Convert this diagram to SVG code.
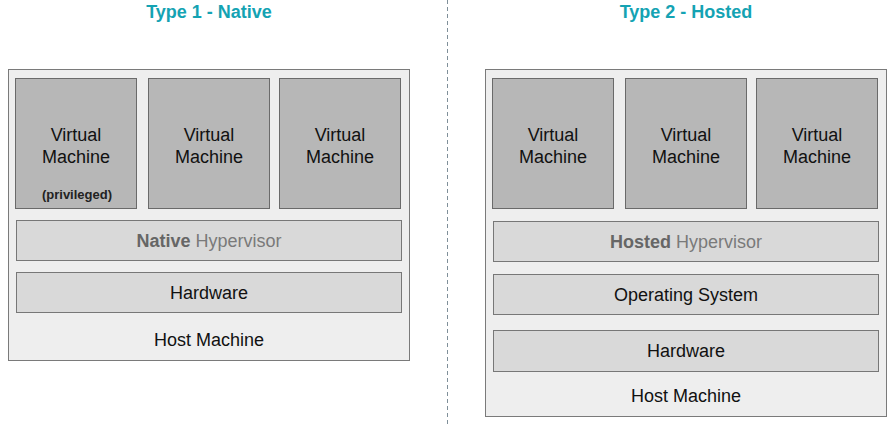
<svg xmlns="http://www.w3.org/2000/svg" width="891" height="424" viewBox="0 0 891 424">
<style>
.t{font-family:"Liberation Sans",Arial,sans-serif;text-anchor:middle}
.title{font-size:18px;font-weight:bold;fill:#14a3b3}
.host{fill:#eeeeee;stroke:#7a7a7a;stroke-width:1}
.vm{fill:#b7b7b7;stroke:#6a6a6a;stroke-width:1}
.layer{fill:#d9d9d9;stroke:#777;stroke-width:1}
.lbl{font-size:18px;fill:#111}
.hyp{font-size:18px;fill:#7a7a7a}
.hb{font-weight:bold;fill:#666}
.priv{font-size:13px;font-weight:bold;fill:#222}
</style>
<rect width="891" height="424" fill="#ffffff"/>
<g id="connectors">
<line x1="447.5" y1="0" x2="447.5" y2="424" stroke="#7f8f99" stroke-width="1" stroke-dasharray="4,3"/>
</g>
<text class="t title" x="209" y="18">Type 1 - Native</text>
<text class="t title" x="686" y="18">Type 2 - Hosted</text>
<g id="host1">
<rect class="host" x="8.5" y="69.5" width="401" height="291"/>
<text class="t lbl" x="209" y="346">Host Machine</text>
</g>
<g id="vm1a">
<rect class="vm" x="15.5" y="78.5" width="121" height="130"/>
<text class="t lbl" x="76" y="141">Virtual</text>
<text class="t lbl" x="76" y="163">Machine</text>
<text class="t priv" x="77" y="199">(privileged)</text>
</g>
<g id="vm1b">
<rect class="vm" x="148.5" y="78.5" width="121" height="130"/>
<text class="t lbl" x="209" y="141">Virtual</text>
<text class="t lbl" x="209" y="163">Machine</text>
</g>
<g id="vm1c">
<rect class="vm" x="279.5" y="78.5" width="121" height="130"/>
<text class="t lbl" x="340" y="141">Virtual</text>
<text class="t lbl" x="340" y="163">Machine</text>
</g>
<g id="hyp1">
<rect class="layer" x="16.5" y="220.5" width="385" height="40"/>
<text class="t hyp" x="209" y="247"><tspan class="hb">Native</tspan> Hypervisor</text>
</g>
<g id="hw1">
<rect class="layer" x="16.5" y="272.5" width="385" height="40"/>
<text class="t lbl" x="209" y="299">Hardware</text>
</g>
<g id="host2">
<rect class="host" x="485.5" y="69.5" width="401" height="347"/>
<text class="t lbl" x="686" y="402">Host Machine</text>
</g>
<g id="vm2a">
<rect class="vm" x="492.5" y="78.5" width="121" height="130"/>
<text class="t lbl" x="553" y="141">Virtual</text>
<text class="t lbl" x="553" y="163">Machine</text>
</g>
<g id="vm2b">
<rect class="vm" x="625.5" y="78.5" width="121" height="130"/>
<text class="t lbl" x="686" y="141">Virtual</text>
<text class="t lbl" x="686" y="163">Machine</text>
</g>
<g id="vm2c">
<rect class="vm" x="756.5" y="78.5" width="121" height="130"/>
<text class="t lbl" x="817" y="141">Virtual</text>
<text class="t lbl" x="817" y="163">Machine</text>
</g>
<g id="hyp2">
<rect class="layer" x="493.5" y="221.5" width="385" height="40"/>
<text class="t hyp" x="686" y="248"><tspan class="hb">Hosted</tspan> Hypervisor</text>
</g>
<g id="os2">
<rect class="layer" x="493.5" y="274.5" width="385" height="40"/>
<text class="t lbl" x="686" y="301">Operating System</text>
</g>
<g id="hw2">
<rect class="layer" x="493.5" y="330.5" width="385" height="41"/>
<text class="t lbl" x="686" y="357">Hardware</text>
</g>
</svg>
